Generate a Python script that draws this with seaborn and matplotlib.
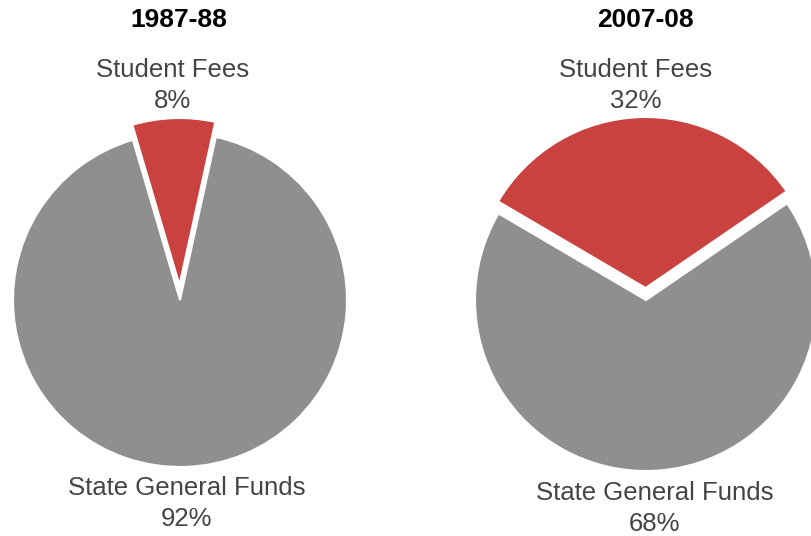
import matplotlib
matplotlib.use("Agg")
import matplotlib.pyplot as plt
import seaborn as sns

# Data
years = ["1987-88", "2007-08"]
categories = ["Student Fees", "State General Funds"]
fees_share = [8, 32]
state_share = [92, 68]

sns.set_theme(style="white")
plt.rcParams["font.family"] = ["Liberation Sans", "DejaVu Sans"]

colors = ["#C9423F", "#8E8F8E"]
text_col = "#444444"

W, H = 812, 536
fig = plt.figure(figsize=(W / 100, H / 100), dpi=100)
ax = fig.add_axes([0, 0, 1, 1])

# pie layout in pixel units (y measured from the top)
centers = [(180, 300), (646, 300)]
radii = [167, 171]
explode_px = [15, 12]  # matplotlib explode is an absolute offset in data units
top_label_x = [173, 636]
bottom_label_x = [187, 655]
bottom_label_y = [488, 493]

for i, year in enumerate(years):
    cx, cy = centers[i]
    vals = [fees_share[i], state_share[i]]
    start = 92 - fees_share[i] * 1.8
    ax.pie(vals, colors=colors, startangle=start, counterclock=True,
           center=(cx, H - cy), radius=radii[i],
           explode=[explode_px[i], 0],
           wedgeprops=dict(edgecolor="white", linewidth=1.5))

    ax.text(cx - 1, H - 20, year, ha="center", va="center",
            fontsize=19, fontweight="bold", color="black")
    ax.text(top_label_x[i], H - 70, categories[0], ha="center", va="center",
            fontsize=18.5, color=text_col)
    ax.text(top_label_x[i], H - 101, f"{fees_share[i]}%", ha="center", va="center",
            fontsize=18.5, color=text_col)
    ax.text(bottom_label_x[i], H - bottom_label_y[i], categories[1], ha="center",
            va="center", fontsize=18.5, color=text_col)
    ax.text(bottom_label_x[i], H - bottom_label_y[i] - 31, f"{state_share[i]}%",
            ha="center", va="center", fontsize=18.5, color=text_col)

ax.set_xlim(0, W)
ax.set_ylim(0, H)
ax.set_aspect("auto")
ax.axis("off")

fig.savefig("out.png", dpi=100)
